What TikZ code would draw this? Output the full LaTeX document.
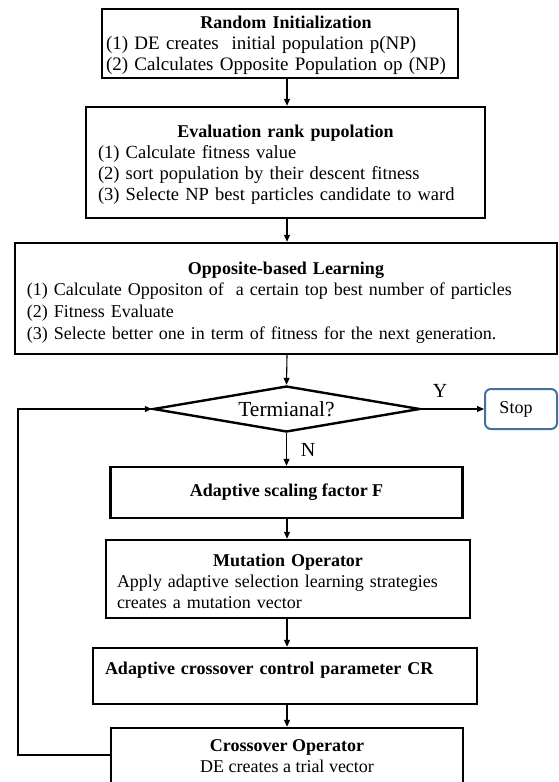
\documentclass[tikz,border=0pt]{standalone}
\usepackage{fontspec}
\setmainfont{Liberation Serif}
\usetikzlibrary{positioning,calc,shapes.geometric,arrows.meta}
\definecolor{stopblue}{RGB}{65,113,156}
\newcommand{\boxtitle}[2][0pt]{\makebox[\linewidth]{\hspace*{#1}\fontsize{18}{21}\selectfont\bfseries #2}}

\begin{document}
\begin{tikzpicture}[x=1pt,y=-1pt,
	stage/.style={draw,rectangle,line width=2.4pt,inner ysep=0pt,font=\fontsize{#1}{21}\selectfont},
	stage/.default=18,
	flow/.style={line width=1.1pt,-{Triangle[length=7pt,width=6pt]}}]
	\useasboundingbox (0,0) rectangle (558,782);
	\clip (0,0) rectangle (558,782);
	%\draw[help lines] (0,0) grid[step=50] (558,782);
	\node[stage=19,minimum width=356pt,minimum height=69pt,text width=348pt,inner xsep=4pt,align=left,text height=16.3pt] (init) at (280,43.5)
		{\boxtitle[12pt]{Random Initialization}\\(1) DE creates~ initial population p(NP)\\(2) Calculates Opposite Population op (NP)};
	\node[stage=18.5,minimum width=399pt,minimum height=111pt,text width=375pt,inner xsep=12pt,align=left,text height=17.3pt] (rank) at (285.5,162.5)
		{\boxtitle{Evaluation rank pupolation}\\(1) Calculate fitness value\\(2) sort population by their descent fitness\\(3) Selecte NP best particles candidate to ward};
	\node[stage,font=\fontsize{18}{21.7}\selectfont,minimum width=542pt,minimum height=111pt,text width=518pt,inner xsep=12pt,align=left,text height=20.3pt] (obl) at (286,298.5)
		{\boxtitle{Opposite-based Learning}\\(1) Calculate Oppositon of~ a certain top best number of particles\\(2) Fitness Evaluate\\(3) Selecte better one in term of fitness for the next generation.};
	\node[draw,diamond,line width=2.4pt,aspect=5.7,minimum width=267pt,minimum height=46pt,inner sep=0pt,font=\fontsize{21.5}{22}\selectfont] (term) at (286.5,409) {Termianal?};
	\node[draw=stopblue,rectangle,rounded corners=6pt,line width=2pt,minimum width=72pt,minimum height=40pt,font=\fontsize{18}{20}\selectfont] (stop) at (521,409) {\hspace*{-10pt}Stop};
	\node[font=\fontsize{20}{22}\selectfont] (ylab) at (440,391) {Y};
	\node[font=\fontsize{20}{22}\selectfont] (nlab) at (308,450) {N};
	\node[stage,minimum width=315pt,minimum height=51pt,align=center] (scal) at (286.5,492.5)
		{\boxtitle{Adaptive scaling factor F}};
	\node[stage,minimum width=364pt,minimum height=78pt,text width=342pt,inner xsep=11pt,align=left,text height=16.3pt] (mut) at (288,579)
		{\boxtitle{Mutation Operator}\\Apply adaptive selection learning strategies\\creates a mutation vector};
	\node[stage,minimum width=384pt,minimum height=56pt,text width=360pt,inner xsep=12pt,align=left,text depth=16pt] (cr) at (285,676)
		{\bfseries Adaptive crossover control parameter CR};
	\node[stage,minimum width=338pt,minimum height=56pt,align=center] (cross) at (287,756)
		{\boxtitle{Crossover Operator}\\DE creates a trial vector};
	\coordinate (axis) at (287,0);
	\coordinate (back) at (18,755);
	\draw[flow] (init.south -| axis) -- (rank.north -| axis);
	\draw[flow] (rank.south -| axis) -- (obl.north -| axis);
	\draw[flow] (obl.south -| axis) -- (term.north);
	\draw[flow] (term.east) -- (stop.west);
	\draw[flow] (term.south) -- (scal.north -| term.south);
	\draw[flow] (scal.south -| axis) -- (mut.north -| axis);
	\draw[flow] (mut.south -| axis) -- (cr.north -| axis);
	\draw[flow] (cr.south -| axis) -- (cross.north -| axis);
	\draw[flow] (cross.west |- back) -- (back) |- (term.west);
\end{tikzpicture}
\end{document}
